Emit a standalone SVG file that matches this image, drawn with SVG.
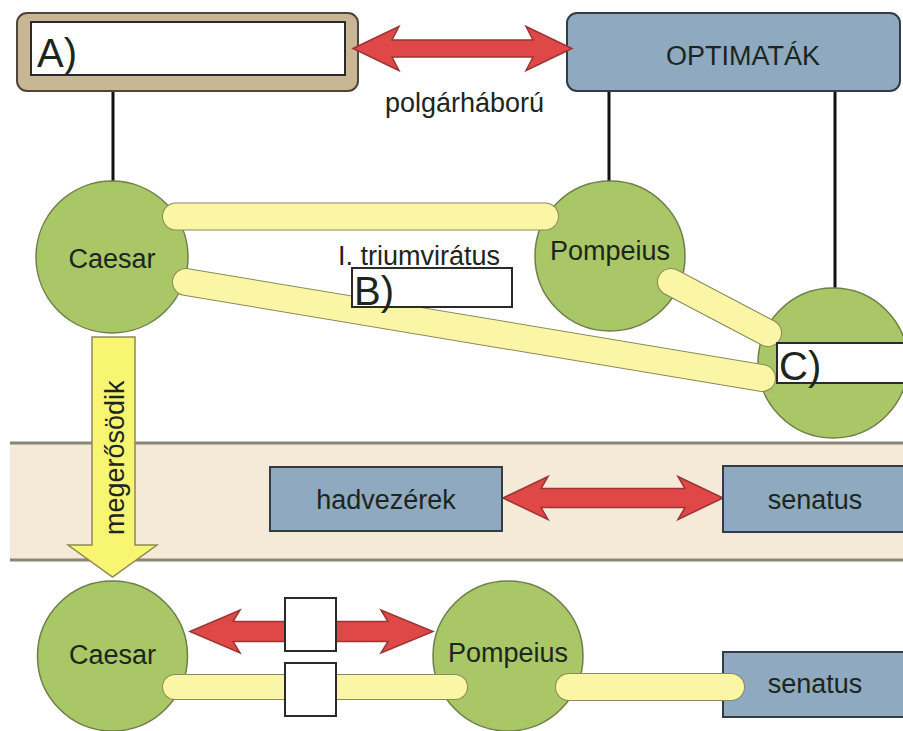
<svg xmlns="http://www.w3.org/2000/svg" width="903" height="731" viewBox="0 0 903 731">
<style>
text{font-family:"Liberation Sans",Arial,sans-serif;fill:#1c261c}
.lbl{font-size:27px}
.big{font-size:40px}
.mid{text-anchor:middle}
.circ{fill:#a9c766;stroke:#6e7e48;stroke-width:1.5}
.blue{fill:#8fa9c0;stroke:#333c44;stroke-width:2}
.red{fill:#e04848;stroke:#9c3434;stroke-width:1.5}
.wbox{fill:#fff;stroke:#2a2a2a;stroke-width:2}
.barO{stroke:#8a8a5a;stroke-linecap:round;fill:none}
.barI{stroke:#fbf6a6;stroke-linecap:round;fill:none}
.blk{stroke:#111;stroke-width:3}
</style>
<rect x="0" y="0" width="903" height="731" fill="#fff"/>

<g id="band">
<rect x="10" y="443" width="893" height="117" fill="#f5ead7"/>
<line x1="10" y1="443" x2="903" y2="443" stroke="#8a8577" stroke-width="3"/>
<line x1="10" y1="560" x2="903" y2="560" stroke="#8a8577" stroke-width="3"/>
</g>

<g id="connectors">
<line class="blk" x1="113" y1="91" x2="113" y2="183"/>
<line class="blk" x1="609" y1="91" x2="609" y2="182"/>
<line class="blk" x1="835" y1="91" x2="835" y2="289"/>
</g>

<g id="node-A">
<rect x="17" y="13" width="341" height="78" rx="10" fill="#c8b694" stroke="#4e463a" stroke-width="2"/>
<rect class="wbox" x="31" y="22" width="314" height="53"/>
<text class="big" x="37" y="67">A)</text>
</g>

<g id="node-optimatak">
<rect class="blue" x="567" y="13" width="333" height="78" rx="10"/>
<text class="lbl mid" x="743" y="65">OPTIMATÁK</text>
</g>

<g id="node-caesar-top">
<circle class="circ" cx="112" cy="257" r="76"/>
<text class="lbl mid" x="112" y="268">Caesar</text>
</g>

<g id="node-pompeius-top">
<circle class="circ" cx="610" cy="256" r="75"/>
<text class="lbl mid" x="610" y="260">Pompeius</text>
</g>

<g id="node-C-circle">
<circle class="circ" cx="833" cy="363" r="75"/>
</g>

<g id="connectors-bars">
<line class="barO" x1="176" y1="216.5" x2="545" y2="216.5" stroke-width="28"/>
<line class="barI" x1="176" y1="216.5" x2="545" y2="216.5" stroke-width="26"/>
<line class="barO" x1="186" y1="282" x2="762" y2="378" stroke-width="28"/>
<line class="barI" x1="186" y1="282" x2="762" y2="378" stroke-width="26"/>
<line class="barO" x1="671" y1="282" x2="768" y2="333" stroke-width="28"/>
<line class="barI" x1="671" y1="282" x2="768" y2="333" stroke-width="26"/>
<path class="red" d="M353,48.5 L399,26.5 L392,40 L533,40 L526,26.5 L572,48.5 L526,70.5 L533,57 L392,57 L399,70.5 Z"/>
<path class="red" d="M503,498 L548,476.5 L541,488.5 L685,488.5 L678,476.5 L723,498 L678,519.5 L685,507.5 L541,507.5 L548,519.5 Z"/>
<path d="M92,337 L135,337 L135,545 L157,545 L112.5,577 L68,545 L92,545 Z" fill="#f8f572" stroke="#8c8a52" stroke-width="1.5"/>
</g>

<text class="lbl" x="385" y="112">polgárháború</text>
<text class="lbl" x="338" y="265">I. triumvirátus</text>
<text class="lbl" transform="rotate(-90 124 535)" x="124" y="535">megerősödik</text>

<g id="node-B">
<rect class="wbox" x="352" y="268" width="160" height="39"/>
<text class="big" x="354" y="305">B)</text>
</g>

<g id="node-C">
<rect class="wbox" x="777" y="343" width="127" height="40"/>
<text class="big" x="779" y="380">C)</text>
</g>

<g id="node-hadvezerek">
<rect class="blue" x="270" y="467" width="232" height="64"/>
<text class="lbl mid" x="386" y="509">hadvezérek</text>
</g>

<g id="node-senatus-band">
<rect class="blue" x="723" y="466" width="182" height="66"/>
<text class="lbl mid" x="815" y="509">senatus</text>
</g>

<g id="node-senatus-bottom">
<rect class="blue" x="723" y="652" width="182" height="65"/>
<text class="lbl mid" x="815" y="693">senatus</text>
</g>

<g id="node-caesar-bottom">
<circle class="circ" cx="112.5" cy="656" r="75"/>
<text class="lbl mid" x="112.5" y="664">Caesar</text>
</g>

<g id="node-pompeius-bottom">
<circle class="circ" cx="508" cy="656" r="75"/>
<text class="lbl mid" x="508" y="662">Pompeius</text>
</g>

<g id="connectors-bottom">
<path class="red" d="M190,631.5 L240,610 L233,621.5 L388,621.5 L381,610 L433,631.5 L381,653 L388,641.5 L233,641.5 L240,653 Z"/>
<line class="barO" x1="175" y1="687" x2="455" y2="687" stroke-width="26"/>
<line class="barI" x1="175" y1="687" x2="455" y2="687" stroke-width="24"/>
<line class="barO" x1="569" y1="687" x2="731" y2="687" stroke-width="28"/>
<line class="barI" x1="569" y1="687" x2="731" y2="687" stroke-width="26"/>
</g>

<g id="node-box-upper">
<rect class="wbox" x="285" y="598" width="51" height="53"/>
</g>
<g id="node-box-lower">
<rect class="wbox" x="285" y="663" width="51" height="53"/>
</g>
</svg>
